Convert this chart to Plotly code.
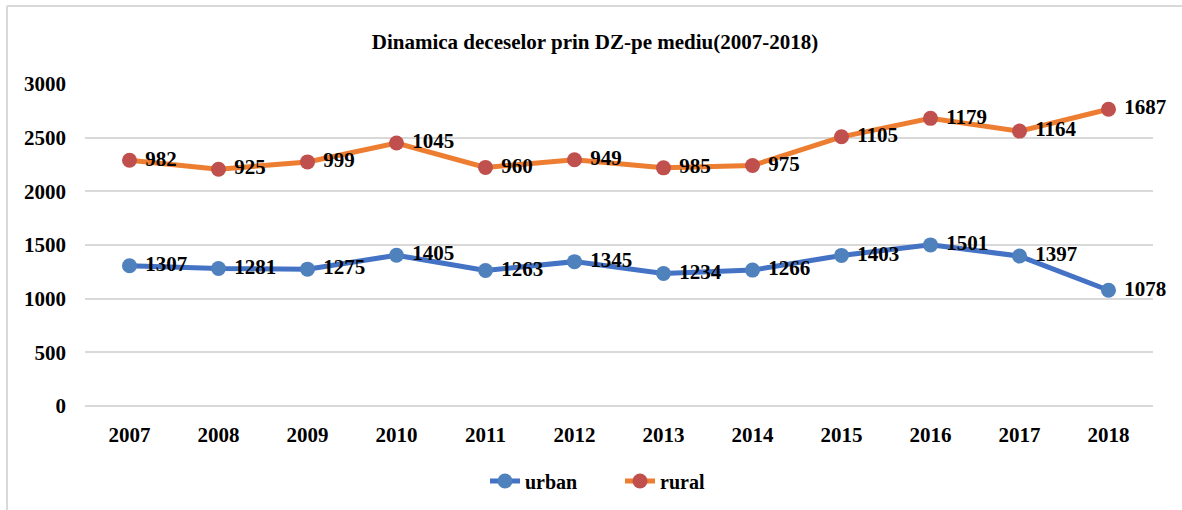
import plotly.graph_objects as go

years = ["2007", "2008", "2009", "2010", "2011", "2012", "2013", "2014", "2015", "2016", "2017", "2018"]
urban = [1307, 1281, 1275, 1405, 1263, 1345, 1234, 1266, 1403, 1501, 1397, 1078]
rural = [982, 925, 999, 1045, 960, 949, 985, 975, 1105, 1179, 1164, 1687]

FONT = "Liberation Serif, Times New Roman, serif"
FS = 21

fig = go.Figure()
fig.add_trace(go.Scatter(
    x=years, y=urban, name="<b>urban</b>", mode="lines+markers+text",
    stackgroup="one", fill="none", cliponaxis=False,
    line=dict(color="#4472C4", width=5),
    marker=dict(color="#4F81BD", size=15),
    text=[f" <b>{v}</b>" for v in urban], textposition="middle right",
    textfont=dict(family=FONT, size=FS, color="black"),
    hoverinfo="x+text",
))
fig.add_trace(go.Scatter(
    x=years, y=rural, name="<b>rural</b>", mode="lines+markers+text",
    stackgroup="one", fill="none", cliponaxis=False,
    line=dict(color="#ED7D31", width=5),
    marker=dict(color="#C0504D", size=15),
    text=[f" <b>{v}</b>" for v in rural], textposition="middle right",
    textfont=dict(family=FONT, size=FS, color="black"),
    hoverinfo="x+text",
))

fig.update_layout(
    width=1182, height=510,
    paper_bgcolor="white", plot_bgcolor="white",
    margin=dict(l=85, r=29, t=84, b=104, autoexpand=False),
    font=dict(family=FONT, color="black"),
    title=dict(text="<b>Dinamica deceselor prin DZ-pe mediu(2007-2018)</b>",
               x=595 / 1182, xref="container", xanchor="center",
               y=1 - 42 / 510, yanchor="middle",
               font=dict(family=FONT, size=FS, color="black")),
    xaxis=dict(type="category", range=[-0.5, 11.5], showgrid=False, showline=False,
               zeroline=False, ticks="", ticklabelstandoff=14,
               tickfont=dict(family=FONT, size=FS, color="black"),
               tickprefix="<b>", ticksuffix="</b>"),
    yaxis=dict(range=[0, 3000], dtick=500, showgrid=True, gridcolor="#D9D9D9",
               gridwidth=1.5, zeroline=True, zerolinecolor="#D9D9D9", zerolinewidth=1.5,
               showline=False, ticks="", ticklabelstandoff=18,
               tickfont=dict(family=FONT, size=FS, color="black"),
               tickprefix="<b>", ticksuffix="</b>"),
    showlegend=True,
    legend=dict(orientation="h", x=620 / 1182, xref="container", xanchor="center",
                y=-0.233, yanchor="middle", entrywidth=90,
                font=dict(family=FONT, size=FS - 1, color="black")),
    shapes=[dict(type="line", xref="paper", yref="paper",
                 x0=-78 / 1068, x1=-78 / 1068, y0=-0.4, y1=400 / 322,
                 line=dict(color="#D9D9D9", width=2), layer="below"),
            dict(type="line", xref="paper", yref="paper",
                 x0=-78 / 1068, x1=1.1, y0=400 / 322, y1=400 / 322,
                 line=dict(color="#D9D9D9", width=2), layer="below")],
)

fig.write_html("out.html", post_script="document.body.style.margin='0';",
               config={"displayModeBar": False})
